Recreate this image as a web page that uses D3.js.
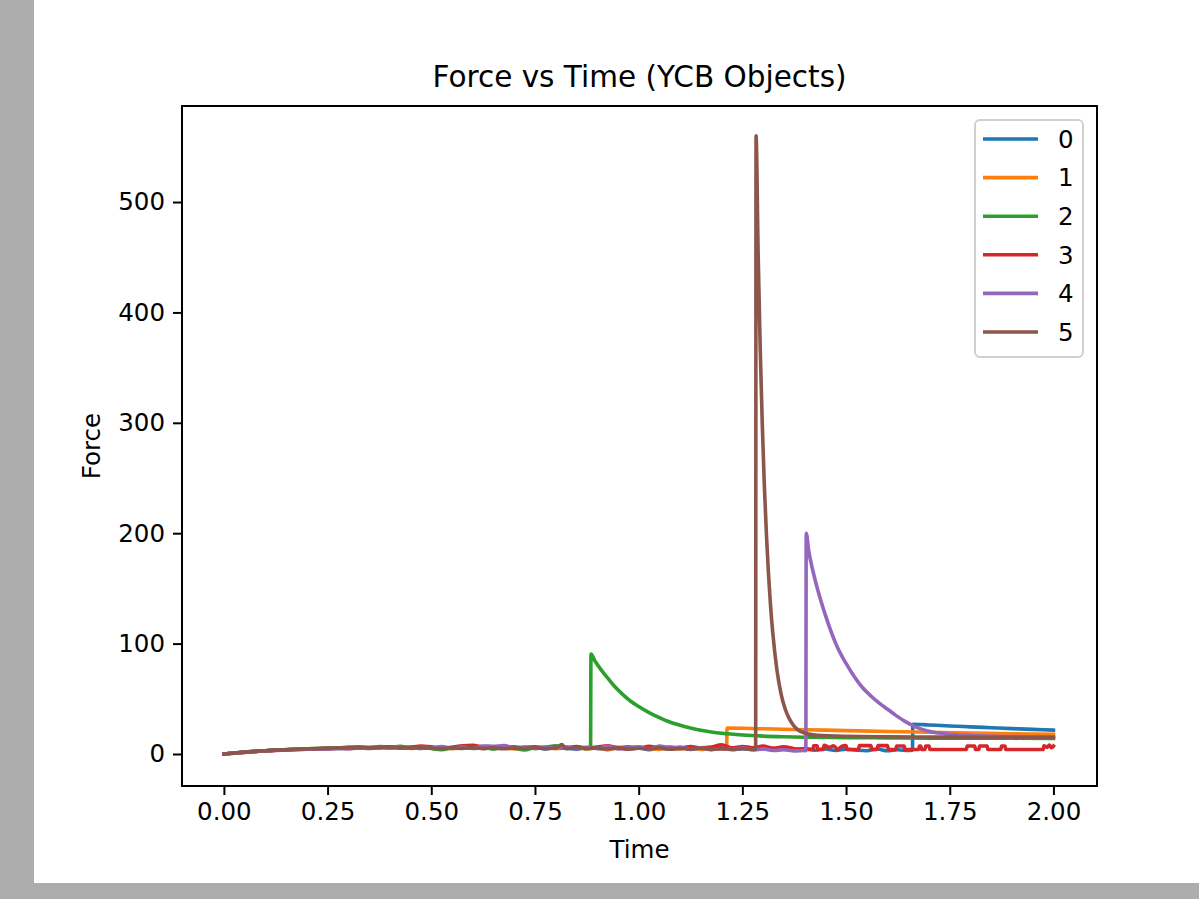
<!DOCTYPE html>
<html>
<head>
<meta charset="utf-8">
<script src="https://cdn.jsdelivr.net/npm/d3@7"></script>
<style>
body { margin:0; background:#adadad; overflow:hidden; }
text { font-family: "DejaVu Sans", sans-serif; fill:#000; }
</style>
</head>
<body>
<div id="the_chart"></div>
<script>
// values, [time, force]
var series0 = [[0,0],[0.025,0.9],[0.05,1.7],[0.075,2.4],[0.1,3.0],[0.125,3.5],[0.15,3.9],[0.175,4.2],[0.2,4.6],[0.225,4.8],[0.25,5.1],[0.275,5.0],[0.3,5.6],[0.325,5.3],[0.35,5.9],[0.375,5.5],[0.4,6.2],[0.425,5.4],[0.45,6.0],[0.475,5.1],[0.5,6.3],[0.525,4.9],[0.55,5.8],[0.575,6.4],[0.6,5.2],[0.625,6.1],[0.65,4.8],[0.675,5.9],[0.7,6.6],[0.725,5.0],[0.75,5.7],[0.775,4.6],[0.8,6.2],[0.825,5.3],[0.85,4.4],[0.875,6.0],[0.9,5.1],[0.925,4.2],[0.95,5.8],[0.975,4.7],[1.0,5.5],[1.025,3.9],[1.05,5.2],[1.075,4.5],[1.1,6.1],[1.125,4.0],[1.15,5.4],[1.175,4.3],[1.2,5.6],[1.225,3.8],[1.25,4.9],[1.275,4.1],[1.3,5.3],[1.325,3.6],[1.35,4.8],[1.375,3.9],[1.4,5.0],[1.425,3.4],[1.45,4.6],[1.475,3.2],[1.5,4.4],[1.525,3.5],[1.55,3.0],[1.575,4.5],[1.6,2.9],[1.625,3.8],[1.65,3.1],[1.66,3.5],[1.661,27],[1.7,26.3],[1.75,25.4],[1.8,24.6],[1.85,23.8],[1.9,23.0],[1.95,22.3],[2.0,21.6]];
var series1 = [[0,0],[0.025,0.8],[0.05,1.6],[0.075,2.3],[0.1,2.9],[0.125,3.4],[0.15,3.8],[0.175,4.3],[0.2,4.5],[0.225,5.0],[0.25,4.8],[0.275,5.4],[0.3,5.1],[0.325,5.8],[0.35,5.2],[0.375,6.0],[0.4,5.5],[0.425,6.3],[0.45,5.0],[0.475,5.9],[0.5,5.3],[0.525,6.4],[0.55,4.9],[0.575,5.6],[0.6,6.2],[0.625,5.0],[0.65,6.0],[0.675,5.4],[0.7,4.7],[0.725,6.1],[0.75,5.2],[0.775,5.9],[0.8,4.8],[0.825,5.5],[0.85,6.3],[0.875,4.6],[0.9,5.4],[0.925,3.9],[0.95,5.7],[0.975,4.4],[1.0,6.0],[1.025,5.0],[1.05,4.2],[1.075,5.6],[1.1,4.6],[1.125,5.9],[1.15,4.1],[1.175,5.2],[1.2,4.5],[1.212,5.0],[1.213,23.5],[1.3,22.8],[1.4,22.0],[1.5,21.2],[1.6,20.4],[1.7,19.7],[1.8,19.0],[1.9,18.4],[2.0,17.8]];
var series2 = [[0,0],[0.025,0.9],[0.05,1.7],[0.075,2.4],[0.1,3.0],[0.125,3.5],[0.15,4.0],[0.175,4.3],[0.2,4.7],[0.225,5.0],[0.25,5.3],[0.275,5.6],[0.3,6.2],[0.325,6.6],[0.35,5.9],[0.375,6.8],[0.4,6.1],[0.425,7.0],[0.45,5.6],[0.475,6.4],[0.5,4.9],[0.525,3.8],[0.55,5.5],[0.575,6.3],[0.6,5.0],[0.625,5.9],[0.65,4.6],[0.675,6.2],[0.7,5.3],[0.725,3.6],[0.75,5.8],[0.775,6.1],[0.8,7.4],[0.825,5.2],[0.85,6.0],[0.875,4.9],[0.884,5.2],[0.885,90.5],[0.895,84],[0.91,76],[0.925,69],[0.94,62],[0.96,54.5],[0.98,48],[1.0,43],[1.025,37.5],[1.05,33],[1.075,29],[1.1,26],[1.125,23.5],[1.15,21.5],[1.175,20],[1.2,18.8],[1.25,17.2],[1.3,16.2],[1.35,15.6],[1.4,15.2],[1.5,14.8],[1.6,14.6],[1.7,14.4],[1.8,14.3],[1.9,14.2],[2.0,14.1]];
var series3 = [[0,0],[0.025,0.8],[0.05,1.5],[0.075,2.2],[0.1,2.8],[0.125,3.3],[0.15,3.7],[0.175,4.1],[0.2,4.4],[0.225,4.7],[0.25,5.0],[0.275,5.3],[0.3,5.0],[0.325,5.6],[0.35,5.2],[0.375,5.9],[0.4,6.4],[0.425,5.5],[0.45,6.1],[0.475,7.2],[0.5,6.3],[0.525,5.4],[0.55,6.0],[0.575,7.5],[0.6,7.8],[0.625,6.2],[0.65,5.7],[0.675,6.6],[0.7,5.1],[0.725,5.9],[0.75,6.4],[0.775,5.5],[0.8,6.1],[0.825,5.3],[0.85,6.8],[0.875,5.6],[0.9,6.3],[0.925,7.4],[0.95,5.8],[0.975,6.5],[1.0,5.2],[1.025,6.9],[1.05,5.9],[1.075,6.3],[1.1,5.4],[1.125,6.7],[1.15,5.6],[1.175,6.2],[1.2,8.3],[1.225,5.5],[1.25,6.8],[1.275,5.7],[1.3,7.1],[1.325,5.3],[1.35,6.6],[1.375,4.7],[1.4,4.0],[1.42,4.0],[1.422,7.5],[1.43,7.5],[1.432,4.0],[1.445,4.0],[1.447,7.8],[1.46,6.0],[1.47,7.5],[1.48,4.2],[1.49,7.0],[1.5,7.6],[1.502,4.0],[1.53,4.0],[1.532,7.6],[1.56,7.6],[1.562,4.0],[1.575,4.0],[1.577,7.6],[1.6,7.6],[1.602,4.0],[1.62,4.0],[1.622,7.2],[1.64,7.2],[1.642,4.0],[1.675,4.0],[1.677,7.2],[1.68,7.2],[1.682,4.0],[1.69,4.0],[1.692,7.2],[1.70,7.2],[1.702,4.0],[1.79,4.0],[1.792,7.2],[1.81,7.2],[1.812,4.0],[1.82,4.0],[1.822,7.2],[1.84,7.2],[1.842,4.0],[1.873,4.0],[1.875,7.2],[1.883,7.2],[1.885,4.0],[1.975,4.0],[1.977,7.4],[1.985,6.0],[1.99,8.2],[1.995,5.6],[2.0,7.2]];
var series4 = [[0,0],[0.025,0.8],[0.05,1.6],[0.075,2.3],[0.1,2.9],[0.125,3.4],[0.15,3.8],[0.175,4.1],[0.2,4.3],[0.225,4.6],[0.25,4.4],[0.275,5.0],[0.3,4.7],[0.325,5.5],[0.35,5.0],[0.375,6.1],[0.4,5.6],[0.425,6.4],[0.45,5.2],[0.475,6.0],[0.5,5.5],[0.525,6.8],[0.55,5.1],[0.575,6.2],[0.6,5.4],[0.625,7.3],[0.65,6.9],[0.675,7.6],[0.7,5.6],[0.725,6.3],[0.75,4.9],[0.775,6.0],[0.8,5.2],[0.825,6.4],[0.85,4.8],[0.875,5.7],[0.9,5.0],[0.925,6.9],[0.95,4.6],[0.975,5.9],[1.0,6.5],[1.025,4.5],[1.05,7.2],[1.075,5.3],[1.1,6.0],[1.125,4.4],[1.15,5.5],[1.175,3.9],[1.2,5.1],[1.225,4.3],[1.25,5.4],[1.275,3.6],[1.3,4.6],[1.325,3.2],[1.35,3.8],[1.375,2.8],[1.4,3.1],[1.403,3.0],[1.404,200],[1.41,184],[1.42,166],[1.43,151],[1.44,138],[1.45,126],[1.46,115],[1.48,96],[1.5,82],[1.52,70],[1.54,60],[1.56,52.5],[1.58,46],[1.6,40.5],[1.62,35],[1.64,30],[1.66,26],[1.68,22.8],[1.7,20.5],[1.75,17.8],[1.8,16.6],[1.9,15.8],[2.0,15.5]];
var series5 = [[0,0],[0.025,0.9],[0.05,1.7],[0.075,2.4],[0.1,3.0],[0.125,3.5],[0.15,3.9],[0.175,4.3],[0.2,4.6],[0.225,4.9],[0.25,5.2],[0.275,5.4],[0.3,5.6],[0.325,5.8],[0.35,5.5],[0.375,6.0],[0.4,5.7],[0.425,6.1],[0.45,5.4],[0.475,5.9],[0.5,5.3],[0.525,4.8],[0.55,5.6],[0.575,5.1],[0.6,5.8],[0.625,4.9],[0.65,5.5],[0.675,4.7],[0.7,5.6],[0.725,5.0],[0.75,5.7],[0.775,4.9],[0.8,5.4],[0.815,8.5],[0.825,4.8],[0.85,5.6],[0.875,5.0],[0.9,5.5],[0.925,4.6],[0.95,5.3],[0.975,4.4],[1.0,5.2],[1.025,4.7],[1.05,5.6],[1.075,4.3],[1.1,5.0],[1.125,4.5],[1.15,5.3],[1.175,4.2],[1.2,4.9],[1.225,4.4],[1.25,4.8],[1.275,4.3],[1.282,4.5],[1.283,560],[1.288,454],[1.293,368],[1.298,299],[1.303,243],[1.308,199],[1.313,163],[1.318,134],[1.323,111],[1.333,77],[1.343,55],[1.353,41],[1.363,32],[1.373,26],[1.383,22],[1.4,19],[1.43,17],[1.5,16],[1.6,15.6],[1.7,15.4],[1.8,15.2],[1.9,15.1],[2.0,15.0]];

var labels = ["0", "1", "2", "3", "4", "5"];
var colors = ["#1f77b4", "#ff7f0e", "#2ca02c", "#d62728", "#9467bd", "#8c564b"];
var xTicks = [0, 0.25, 0.5, 0.75, 1.0, 1.25, 1.5, 1.75, 2.0];
var yTicks = [0, 100, 200, 300, 400, 500];

var allSeries = [series0, series1, series2, series3, series4, series5];

gen_chart();

function gen_chart() {
    var w = 1199, h = 899;
    var left = 182, right = 1097, top = 106, bottom = 786;

    var svg = d3.select("#the_chart")
                .append("svg")
                .attr("width", w)
                .attr("height", h);

    // grey page + white figure
    svg.append("rect").attr("width", w).attr("height", h).attr("fill", "#adadad");
    svg.append("rect").attr("x", 34).attr("y", 0).attr("width", w - 34).attr("height", 883).attr("fill", "#fff");

    var xscale = d3.scaleLinear()
                   .domain([-0.101, 2.105])
                   .range([left, right]);
    var yscale = d3.scaleLinear()
                   .domain([-29, 587])
                   .range([bottom, top]);

    svg.append("clipPath").attr("id", "clip")
       .append("rect").attr("x", left).attr("y", top)
       .attr("width", right - left).attr("height", bottom - top);

    var line = d3.line()
                 .curve(d3.curveMonotoneX)
                 .x(function(d) { return xscale(d[0]); })
                 .y(function(d) { return yscale(d[1]); });

    svg.append("g").attr("clip-path", "url(#clip)")
       .selectAll("path")
       .data(allSeries)
       .enter().append("path")
       .attr("d", line)
       .attr("fill", "none")
       .attr("stroke", function(d, i) { return colors[i]; })
       .attr("stroke-width", 3.6)
       .attr("stroke-linejoin", "round")
       .attr("stroke-linecap", "square");

    var xaxis = d3.axisBottom(xscale)
                  .tickValues(xTicks)
                  .tickFormat(d3.format(".2f"))
                  .tickSize(9).tickPadding(8);
    var yaxis = d3.axisLeft(yscale)
                  .tickValues(yTicks)
                  .tickFormat(d3.format("d"))
                  .tickSize(9).tickPadding(8);

    var gX = svg.append("g")
                .attr("transform", "translate(0," + bottom + ")")
                .call(xaxis);
    var gY = svg.append("g")
                .attr("transform", "translate(" + left + ",0)")
                .call(yaxis);

    [gX, gY].forEach(function(g) {
        g.select(".domain").remove();
        g.selectAll("line").attr("stroke", "#000").attr("stroke-width", 2);
        g.selectAll("text").attr("font-size", 24.5).attr("fill", "#1a1a1a")
         .attr("font-family", "DejaVu Sans");
    });

    // axes frame
    svg.append("rect")
       .attr("x", left).attr("y", top)
       .attr("width", right - left).attr("height", bottom - top)
       .attr("fill", "none").attr("stroke", "#000").attr("stroke-width", 2);

    svg.append("text")
       .attr("x", (left + right) / 2).attr("y", 87)
       .attr("text-anchor", "middle").attr("font-size", 29.5)
       .attr("fill", "#1a1a1a")
       .text("Force vs Time (YCB Objects)");

    svg.append("text")
       .attr("x", (left + right) / 2).attr("y", 858)
       .attr("text-anchor", "middle").attr("font-size", 24.5)
       .attr("fill", "#1a1a1a")
       .text("Time");

    svg.append("text")
       .attr("transform", "translate(100," + ((top + bottom) / 2) + ") rotate(-90)")
       .attr("text-anchor", "middle").attr("font-size", 24.5)
       .attr("fill", "#1a1a1a")
       .text("Force");

    // legend
    var lg = svg.append("g").attr("transform", "translate(975,120)");
    lg.append("rect")
      .attr("width", 108).attr("height", 237).attr("rx", 5)
      .attr("fill", "#fff").attr("fill-opacity", 0.8)
      .attr("stroke", "#d0d0d0").attr("stroke-width", 2);
    var item = lg.selectAll("g.item")
                 .data(labels)
                 .enter().append("g")
                 .attr("class", "item")
                 .attr("transform", function(d, i) { return "translate(0," + (19 + i * 38.6) + ")"; });
    item.append("line")
        .attr("x1", 8).attr("x2", 63)
        .attr("stroke", function(d, i) { return colors[i]; })
        .attr("stroke-width", 3.6);
    item.append("text")
        .attr("x", 83).attr("dy", "0.36em")
        .attr("font-size", 24.5)
        .attr("fill", "#1a1a1a")
        .text(function(d) { return d; });
}
</script>
</body>
</html>
